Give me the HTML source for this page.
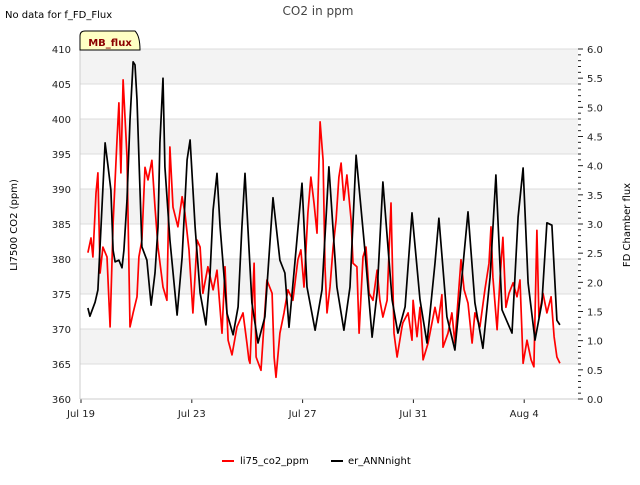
<!DOCTYPE html>
<html><head><meta charset="utf-8"><style>
body{margin:0;background:#fff;}
svg text{font-family:"DejaVu Sans","Liberation Sans",sans-serif;}
</style></head><body>
<svg id="chart" width="640" height="480" xmlns="http://www.w3.org/2000/svg">
<text x="5" y="18" font-size="10" fill="#000">No data for f_FD_Flux</text>
<text x="318" y="15" font-size="12" fill="#444" text-anchor="middle">CO2 in ppm</text>
<g id="bands"></g>
<g id="grid"></g>
<g id="series"></g>
<g id="axes"></g>
<g>
<path d="M80,50 L80,36 Q80,31 85,31 L135,31 Q140,36 140,50 Z" fill="#ffffc4" stroke="#000" stroke-width="1"/>
<text x="110" y="46" font-size="10" font-weight="bold" fill="#8b0000" text-anchor="middle">MB_flux</text>
</g>
<text transform="translate(17,225) rotate(-90)" font-size="10" text-anchor="middle" fill="#000">LI7500 CO2 (ppm)</text>
<text transform="translate(630,225) rotate(-90)" font-size="10" text-anchor="middle" fill="#000">FD Chamber flux</text>
<g>
<line x1="222" y1="461" x2="234" y2="461" stroke="#f00" stroke-width="2"/>
<text x="240" y="464" font-size="10">li75_co2_ppm</text>
<line x1="331" y1="461" x2="343" y2="461" stroke="#000" stroke-width="2"/>
<text x="348" y="464" font-size="10">er_ANNnight</text>
</g>
</svg>
<script>
const xTickDays=[0,4,8,12,16];
const xTickLabels=["Jul 19","Jul 23","Jul 27","Jul 31","Aug 4"];
const leftTicks=[360,365,370,375,380,385,390,395,400,405,410];
const rightTicks=[0,0.5,1,1.5,2,2.5,3,3.5,4,4.5,5,5.5,6];
const redDays=[0.25,0.36,0.43,0.54,0.61,0.69,0.79,0.94,1.05,1.16,1.30,1.37,1.44,1.52,1.66,1.77,1.88,2.02,2.09,2.20,2.31,2.42,2.56,2.67,2.78,2.96,3.10,3.21,3.32,3.50,3.65,3.75,3.90,4.04,4.19,4.30,4.40,4.58,4.77,4.91,5.09,5.20,5.31,5.45,5.63,5.85,5.99,6.06,
6.10,6.25,6.32,6.50,6.71,6.90,6.97,7.04,7.18,7.33,7.47,7.65,7.83,7.94,8.05,8.19,8.30,8.41,8.52,8.63,8.74,8.81,8.88,8.99,9.10,9.21,9.31,9.39,9.49,9.60,9.75,9.82,9.96,10.04,10.18,10.29,10.40,10.54,10.69,10.79,10.90,11.05,11.19,11.30,11.41,11.59,
11.62,11.81,11.95,11.99,12.13,12.24,12.35,12.53,12.67,12.78,12.89,13.03,13.07,13.25,13.39,13.50,13.61,13.72,13.83,13.97,14.12,14.22,14.40,14.58,14.73,14.80,14.87,15.02,15.13,15.23,15.34,15.45,15.60,15.74,15.85,15.96,16.10,16.25,16.35,16.46,16.53,16.68,16.82,16.97,17.08,17.18,17.29];
const redValues=[380.9,383.0,380.3,389.4,392.3,378.0,381.7,380.3,370.3,385.1,397.0,402.3,392.3,405.6,394.6,370.3,372.3,374.6,380.3,382.7,393.1,391.3,394.1,387.4,381.7,376.0,374.1,396.0,387.4,384.6,388.9,386.6,381.3,372.3,382.7,381.7,375.1,378.9,375.6,378.4,369.4,378.9,368.4,366.3,370.3,372.3,368.0,365.6,
365.1,379.4,366.0,364.1,377.0,375.1,366.0,363.1,369.4,372.3,375.6,374.1,379.9,381.3,376.0,386.6,391.7,388.0,383.7,399.6,394.1,378.9,372.3,376.0,381.7,385.6,391.7,393.7,388.4,392.0,385.6,379.4,378.9,369.4,380.3,381.7,375.1,374.1,378.4,374.1,371.7,374.1,388.0,369.4,366.0,370.3,
370.9,372.3,368.4,374.1,368.9,373.1,365.6,368.0,370.9,373.1,370.9,374.9,367.4,369.4,372.3,368.0,374.1,379.9,375.6,373.7,368.0,372.3,370.3,375.6,379.4,384.6,377.4,369.9,377.4,383.1,373.1,375.1,376.6,374.6,377.0,365.1,368.4,365.6,364.6,384.1,371.7,375.1,372.3,374.6,368.9,366.0,365.1];
const blackDays=[0.25,0.32,0.51,0.61,0.76,0.87,0.97,1.08,1.16,1.23,1.37,1.48,1.55,1.66,1.77,1.88,1.95,2.02,2.13,2.20,2.38,2.53,2.67,2.78,2.85,2.96,3.03,3.21,3.47,3.65,3.83,3.94,4.12,4.30,4.51,4.66,4.77,4.91,5.02,5.27,5.49,5.67,5.81,5.92,6.17,6.39,6.64,6.93,7.18,7.36,7.51,7.73,7.98,8.16,8.45,8.70,8.95,9.24,9.49,9.71,9.93,10.25,10.51,10.69,10.90,11.23,11.44,11.70,11.95,12.24,12.49,12.78,12.92,13.21,13.50,13.75,13.97,14.22,14.51,14.77,14.98,15.20,15.56,15.78,15.96,16.14,16.39,16.64,16.82,17.00,17.18,17.29];
const blackValues=[1.56,1.42,1.66,1.87,3.33,4.39,4.01,3.58,2.55,2.35,2.38,2.25,2.55,3.41,4.78,5.78,5.73,5.13,3.58,2.61,2.38,1.61,2.16,2.95,4.39,5.50,3.98,2.73,1.44,2.43,4.10,4.44,2.95,1.82,1.27,2.16,3.24,3.87,2.95,1.47,1.10,1.58,2.95,3.87,1.65,0.96,1.41,3.45,2.38,2.16,1.23,2.38,3.70,1.92,1.18,1.87,3.98,1.92,1.18,1.92,4.18,2.55,1.06,1.82,3.72,1.70,1.13,1.58,3.19,1.70,0.96,2.33,3.10,1.41,0.84,2.09,3.21,1.65,0.87,2.09,3.84,1.53,1.13,3.12,3.96,1.99,1.01,1.65,3.02,2.98,1.35,1.27];

const NS="http://www.w3.org/2000/svg";
const PL=80,PR=578,PT=49,PB=399;
function xS(d){return 81+d*27.7;}
function yL(v){return PB-(v-360)/50*(PB-PT);}
function yR(v){return PB-v/6*(PB-PT);}
function mk(tag,attrs,parent){const e=document.createElementNS(NS,tag);for(const k in attrs)e.setAttribute(k,attrs[k]);parent.appendChild(e);return e;}
const bands=document.getElementById('bands'),grid=document.getElementById('grid'),series=document.getElementById('series'),axes=document.getElementById('axes');
mk('rect',{x:PL,y:PT,width:PR-PL,height:PB-PT,fill:'#fff'},bands);
for(let v=365;v<410;v+=10){
 const r=mk('rect',{x:PL,y:yL(v+5),width:PR-PL,height:yL(v)-yL(v+5),fill:'#f3f3f3'},bands);
 
 
}
leftTicks.forEach(v=>{
 const l=mk('line',{x1:PL,x2:PR,y1:yL(v),y2:yL(v),stroke:'#dddddd','stroke-width':1},grid);
 
 
 const t=mk('text',{x:71,y:yL(v)+4,'font-size':10,'text-anchor':'end',fill:'#222'},axes);
 
 
 t.textContent=v;
});
rightTicks.forEach(v=>{
 const t=mk('text',{x:587,y:yR(v)+4,'font-size':10,fill:'#222'},axes);
 
 
 t.textContent=v.toFixed(1);
 mk('line',{x1:PR,x2:PR+5,y1:yR(v),y2:yR(v),stroke:'#222'},axes);
});
for(let i=0;i<=60;i++){if(i%5)mk('line',{x1:PR,x2:PR+3,y1:yR(i/10),y2:yR(i/10),stroke:'#222'},axes);}
xTickDays.forEach((d,i)=>{
 mk('line',{x1:xS(d),x2:xS(d),y1:PB,y2:PB+4,stroke:'#222'},axes);
 const t=mk('text',{x:xS(d),y:417,'font-size':10,'text-anchor':'middle',fill:'#222'},axes);
 
 
 t.textContent=xTickLabels[i];
});
mk('line',{x1:PL,x2:PL,y1:PT,y2:PB,stroke:'#cccccc'},axes);
mk('line',{x1:PL,x2:PR,y1:PB,y2:PB,stroke:'#cccccc'},axes);
function line(days,vals,ys,color,name){
 const p=days.map((d,i)=>(i?'L':'M')+xS(d).toFixed(1)+','+ys(vals[i]).toFixed(1)).join('');
 const e=mk('path',{d:p,fill:'none',stroke:color,'stroke-width':1.7,'stroke-linejoin':'round'},series);
 
 
}
line(redDays,redValues,yL,'#ff0000','li75-co2-line');
line(blackDays,blackValues,yR,'#000000','er-annnight-line');
</script>
</body></html>
